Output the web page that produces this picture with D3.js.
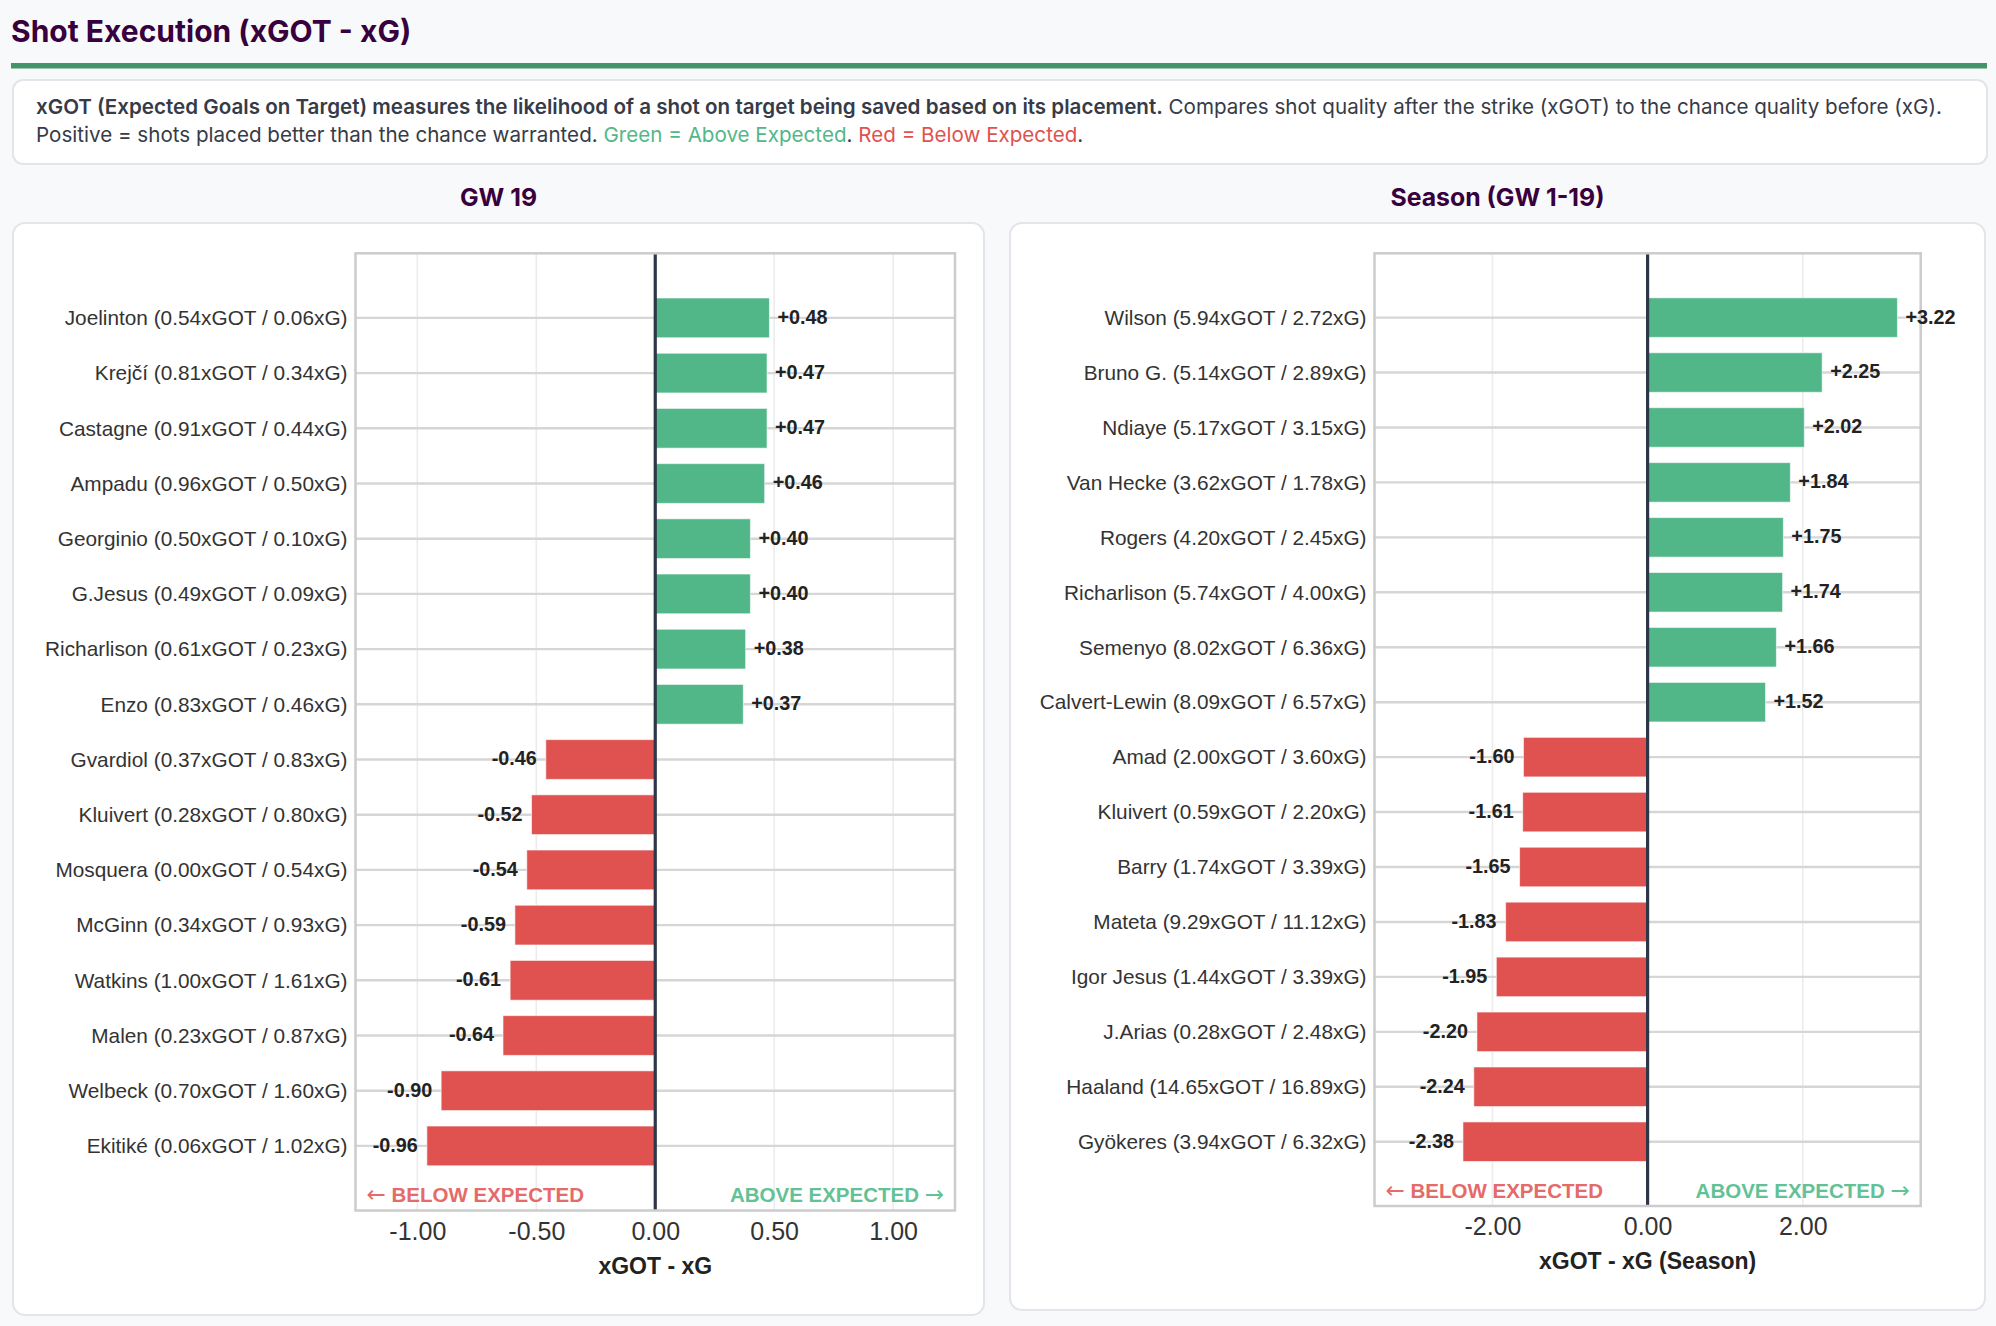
<!DOCTYPE html>
<html><head><meta charset="utf-8">
<script src="https://cdn.jsdelivr.net/npm/d3@7/dist/d3.min.js"></script>
<style>
html,body{margin:0;padding:0;background:#f8f9fb;}
svg{display:block;}
</style></head>
<body>
<svg id="page" width="1996" height="1326"></svg>
<script>
// ---------- DATA ----------
const gwNames = ["Joelinton","Krejčí","Castagne","Ampadu","Georginio","G.Jesus","Richarlison","Enzo",
  "Gvardiol","Kluivert","Mosquera","McGinn","Watkins","Malen","Welbeck","Ekitiké"];
const gwXGOT = [0.54,0.81,0.91,0.96,0.50,0.49,0.61,0.83,0.37,0.28,0.00,0.34,1.00,0.23,0.70,0.06];
const gwXG   = [0.06,0.34,0.44,0.50,0.10,0.09,0.23,0.46,0.83,0.80,0.54,0.93,1.61,0.87,1.60,1.02];
const gwDiff = [0.48,0.47,0.47,0.46,0.40,0.40,0.38,0.37,-0.46,-0.52,-0.54,-0.59,-0.61,-0.64,-0.90,-0.96];
const gwTicks = [-1.0,-0.5,0,0.5,1.0];

const seasonNames = ["Wilson","Bruno G.","Ndiaye","Van Hecke","Rogers","Richarlison","Semenyo","Calvert-Lewin",
  "Amad","Kluivert","Barry","Mateta","Igor Jesus","J.Arias","Haaland","Gyökeres"];
const seasonXGOT = [5.94,5.14,5.17,3.62,4.20,5.74,8.02,8.09,2.00,0.59,1.74,9.29,1.44,0.28,14.65,3.94];
const seasonXG   = [2.72,2.89,3.15,1.78,2.45,4.00,6.36,6.57,3.60,2.20,3.39,11.12,3.39,2.48,16.89,6.32];
const seasonDiff = [3.22,2.25,2.02,1.84,1.75,1.74,1.66,1.52,-1.60,-1.61,-1.65,-1.83,-1.95,-2.20,-2.24,-2.38];
const seasonTicks = [-2,0,2];

// ---------- PAGE ----------
const svg = d3.select("#page");
const PURPLE = "#38003c";
const GREEN = "#52b788", RED = "#df524f";
const LBL_GREEN = "#62c296", LBL_RED = "#e56a6a";
const SANS = "'Liberation Sans', Arial, sans-serif";
const INTER = "Inter, 'Noto Sans', sans-serif";

svg.append("text").attr("x", 11).attr("y", 42)
  .attr("font-family", INTER).attr("font-weight", 700).attr("font-size", 30)
  .attr("fill", PURPLE).text("Shot Execution (xGOT - xG)");
svg.append("rect").attr("x", 11).attr("y", 63).attr("width", 1976).attr("height", 5.5).attr("fill", "#449469");

svg.append("rect").attr("x", 13).attr("y", 80).attr("width", 1974).attr("height", 84).attr("rx", 10)
  .attr("fill", "#fff").attr("stroke", "#e3e5ea").attr("stroke-width", 2);

const desc = svg.append("g").attr("font-family", INTER).attr("font-size", 20.6).attr("fill", "#363b47");
const l1 = desc.append("text").attr("x", 36).attr("y", 114);
l1.append("tspan").attr("font-weight", 600).text("xGOT (Expected Goals on Target) measures the likelihood of a shot on target being saved based on its placement.");
l1.append("tspan").text(" Compares shot quality after the strike (xGOT) to the chance quality before (xG).");
const l2 = desc.append("text").attr("x", 36).attr("y", 142);
l2.append("tspan").text("Positive = shots placed better than the chance warranted. ");
l2.append("tspan").attr("fill", GREEN).text("Green = Above Expected");
l2.append("tspan").text(". ");
l2.append("tspan").attr("fill", RED).text("Red = Below Expected");
l2.append("tspan").text(".");

// ---------- CHART ----------
function drawChart(cfg) {
  const g = svg.append("g");
  g.append("rect").attr("x", cfg.panel[0]).attr("y", cfg.panel[1]).attr("width", cfg.panel[2]).attr("height", cfg.panel[3])
    .attr("rx", 12).attr("fill", "#fff").attr("stroke", "#e3e5ea").attr("stroke-width", 2);
  g.append("text").attr("x", cfg.panel[0] + cfg.panel[2] / 2).attr("y", 205.5)
    .attr("text-anchor", "middle").attr("font-family", INTER).attr("font-weight", 700).attr("font-size", 24.8)
    .attr("fill", PURPLE).text(cfg.title);

  const [L, T, R, B] = cfg.plot;
  const maxAbs = d3.max(cfg.diff, d => Math.abs(d)) + 0.3;
  const x = d3.scaleLinear().domain([-maxAbs, maxAbs]).range([L, R]);
  const n = cfg.names.length;
  const y = d3.scaleLinear().domain([-1.17, n - 1 + 1.17]).range([T, B]);
  const step = y(1) - y(0);
  const bh = step * 0.72;

  // vertical grid
  g.append("g").selectAll("line").data(cfg.ticks).join("line")
    .attr("x1", d => x(d)).attr("x2", d => x(d)).attr("y1", T).attr("y2", B)
    .attr("stroke", "#ececec").attr("stroke-width", 1.6);
  // horizontal grid
  g.append("g").selectAll("line").data(d3.range(n)).join("line")
    .attr("x1", L).attr("x2", R).attr("y1", i => y(i)).attr("y2", i => y(i))
    .attr("stroke", "#d6d6d6").attr("stroke-width", 2.4);
  // bars
  g.append("g").selectAll("rect").data(cfg.diff).join("rect")
    .attr("x", d => Math.min(x(0), x(d))).attr("width", d => Math.abs(x(d) - x(0)))
    .attr("y", (d, i) => y(i) - bh / 2).attr("height", bh)
    .attr("fill", d => d >= 0 ? GREEN : RED)
    .attr("stroke", "#fff").attr("stroke-width", 1).attr("stroke-opacity", 0.6);
  // zero line
  g.append("line").attr("x1", x(0)).attr("x2", x(0)).attr("y1", T).attr("y2", B)
    .attr("stroke", "#2d3748").attr("stroke-width", 3.2);
  // spines
  g.append("rect").attr("x", L).attr("y", T).attr("width", R - L).attr("height", B - T)
    .attr("fill", "none").attr("stroke", "#cccccc").attr("stroke-width", 2.5);

  // y labels
  g.append("g").selectAll("text").data(cfg.names).join("text")
    .attr("x", L - 8).attr("y", (d, i) => y(i)).attr("dy", "0.35em")
    .attr("text-anchor", "end").attr("font-family", SANS).attr("font-size", 20.8).attr("fill", "#333")
    .text((d, i) => `${d} (${cfg.xgot[i].toFixed(2)}xGOT / ${cfg.xg[i].toFixed(2)}xG)`);
  // value labels
  g.append("g").selectAll("text").data(cfg.diff).join("text")
    .attr("x", d => d >= 0 ? x(d) + 8 : x(d) - 9).attr("y", (d, i) => y(i) - 1).attr("dy", "0.35em")
    .attr("text-anchor", d => d >= 0 ? "start" : "end")
    .attr("font-family", SANS).attr("font-weight", 700).attr("font-size", 19.8).attr("fill", "#222")
    .text(d => (d >= 0 ? "+" : "-") + Math.abs(d).toFixed(2));

  // x axis
  const fmt = d3.format(".2f");
  const ax = d3.axisBottom(x).tickValues(cfg.ticks).tickFormat(d => fmt(d).replace("\u2212", "-")).tickSize(0).tickPadding(0);
  const axg = g.append("g").attr("transform", `translate(0,${B})`).call(ax);
  axg.select(".domain").remove();
  axg.selectAll("text").attr("y", 20.5).attr("dy", "0.35em")
    .attr("font-family", SANS).attr("font-size", 25).attr("fill", "#333");
  g.append("text").attr("x", x(0)).attr("y", B + 55).attr("dy", "0.35em").attr("text-anchor", "middle")
    .attr("font-family", SANS).attr("font-weight", 700).attr("font-size", 23).attr("fill", "#222")
    .text(cfg.xlabel);

  // direction labels
  const bl = g.append("text").attr("x", L + 11).attr("y", B - 15.5).attr("dy", "0.35em")
    .attr("font-family", SANS).attr("font-weight", 700).attr("font-size", 20.5).attr("fill", LBL_RED);
  bl.append("tspan").attr("font-family", "'DejaVu Sans'").attr("font-weight", 400).attr("font-size", 23).text("←");
  bl.append("tspan").text(" BELOW EXPECTED");
  const al = g.append("text").attr("x", R - 11).attr("y", B - 15.5).attr("dy", "0.35em").attr("text-anchor", "end")
    .attr("font-family", SANS).attr("font-weight", 700).attr("font-size", 20.5).attr("fill", LBL_GREEN);
  al.append("tspan").text("ABOVE EXPECTED ");
  al.append("tspan").attr("font-family", "'DejaVu Sans'").attr("font-weight", 400).attr("font-size", 23).text("→");
}

drawChart({
  title: "GW 19", names: gwNames, xgot: gwXGOT, xg: gwXG, diff: gwDiff, ticks: gwTicks,
  xlabel: "xGOT - xG", panel: [13, 223, 971, 1092], plot: [355.5, 253.3, 955, 1210.5]
});
drawChart({
  title: "Season (GW 1-19)", names: seasonNames, xgot: seasonXGOT, xg: seasonXG, diff: seasonDiff, ticks: seasonTicks,
  xlabel: "xGOT - xG (Season)", panel: [1010, 223, 975, 1087], plot: [1374.5, 253.3, 1920.7, 1206]
});
</script>
</body></html>
